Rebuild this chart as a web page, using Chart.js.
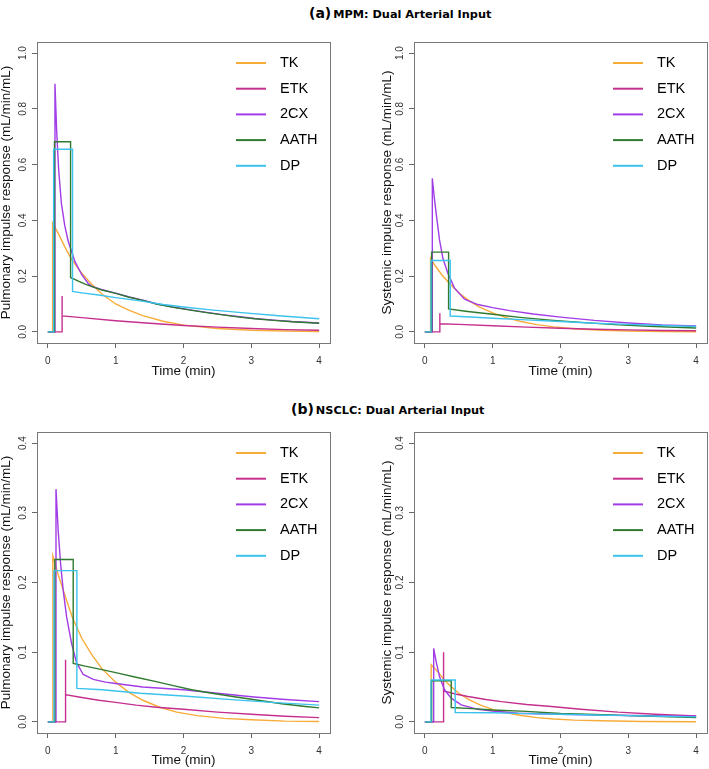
<!DOCTYPE html>
<html>
<head>
<meta charset="utf-8">
<script src="https://cdn.jsdelivr.net/npm/chart.js@4.4.1/dist/chart.umd.min.js"></script>
<style>
  body { margin:0; background:#fff; width:709px; height:769px; position:relative; overflow:hidden; }
  canvas { position:absolute; }
  .ttl { position:absolute; font-family:"DejaVu Sans",sans-serif; font-weight:bold; color:#000; white-space:nowrap; line-height:1; }
  .ttl b { font-size:14px; }
  .ttl span { font-size:11.3px; margin-left:2px; }
</style>
</head>
<body>
<div class="ttl" style="left:309px;top:5px"><b>(a)</b><span>MPM: Dual Arterial Input</span></div>
<div class="ttl" style="left:291px;top:401px"><b>(b)</b><span>NSCLC: Dual Arterial Input</span></div>
<canvas id="c1" width="354" height="350" style="left:0;top:30px"></canvas>
<canvas id="c2" width="355" height="350" style="left:354px;top:30px"></canvas>
<canvas id="c3" width="354" height="349" style="left:0;top:420px"></canvas>
<canvas id="c4" width="355" height="349" style="left:354px;top:420px"></canvas>
<script>
const MODELS = ['TK','ETK','2CX','AATH','DP'];
const COLORS = ['#F7AC3A','#C5308E','#A23CE6','#2F7A2F','#3BC3EE'];
const X_TICKS = [0,1,2,3,4];

// (a) MPM, pulmonary  [time (min), response]
const aPulTK   = [[0,0],[0.07,0],[0.07,0.39],[0.15,0.355],[0.25,0.305],[0.35,0.26],[0.5,0.21],[0.65,0.17],[0.8,0.135],[1.0,0.10],[1.2,0.077],[1.4,0.058],[1.7,0.038],[2.0,0.024],[2.5,0.012],[3.0,0.006],[3.5,0.003],[4.0,0.0015]];
const aPulETK  = [[0,0],[0.21,0],[0.21,0.129],[0.21,0.057],[0.5,0.051],[1.0,0.04],[1.5,0.031],[2.0,0.023],[2.5,0.017],[3.0,0.012],[3.5,0.008],[4.0,0.006]];
const aPul2CX  = [[0,0],[0.105,0],[0.105,0.89],[0.13,0.72],[0.16,0.58],[0.2,0.46],[0.25,0.38],[0.3,0.325],[0.4,0.252],[0.5,0.205],[0.6,0.172],[0.65,0.163],[0.8,0.151],[1.0,0.139],[1.2,0.125],[1.4,0.114],[1.6,0.101],[1.85,0.089],[2.1,0.079],[2.34,0.07],[2.6,0.061],[2.83,0.054],[3.05,0.048],[3.33,0.042],[3.6,0.037],[4.0,0.032]];
const aPulAATH = [[0,0],[0.098,0],[0.098,0.682],[0.335,0.682],[0.335,0.195],[0.45,0.182],[0.55,0.171],[0.65,0.162],[0.8,0.15],[1.0,0.138],[1.2,0.124],[1.4,0.113],[1.6,0.1],[1.85,0.088],[2.1,0.078],[2.34,0.069],[2.6,0.06],[2.83,0.053],[3.05,0.047],[3.33,0.041],[3.6,0.036],[4.0,0.031]];
const aPulDP   = [[0,0],[0.085,0],[0.085,0.655],[0.364,0.655],[0.364,0.145],[0.5,0.14],[0.75,0.132],[1.0,0.123],[1.36,0.111],[1.7,0.098],[2.0,0.089],[2.4,0.079],[2.9,0.068],[3.4,0.058],[4.0,0.047]];

// (a) MPM, systemic
const aSysTK   = [[0,0],[0.084,0],[0.084,0.264],[0.15,0.238],[0.25,0.205],[0.35,0.177],[0.5,0.14],[0.65,0.112],[0.8,0.09],[1.0,0.068],[1.2,0.051],[1.4,0.038],[1.65,0.026],[1.9,0.018],[2.2,0.011],[2.6,0.006],[3.0,0.003],[3.5,0.0012],[4.0,0.0005]];
const aSysETK  = [[0,0],[0.221,0],[0.221,0.067],[0.221,0.029],[0.5,0.027],[1.0,0.022],[1.5,0.017],[2.0,0.013],[2.5,0.0095],[3.0,0.007],[3.5,0.005],[4.0,0.004]];
const aSys2CX  = [[0,0],[0.11,0],[0.11,0.551],[0.14,0.48],[0.167,0.425],[0.216,0.33],[0.266,0.264],[0.339,0.21],[0.438,0.157],[0.585,0.117],[0.78,0.098],[1.0,0.087],[1.25,0.076],[1.6,0.064],[2.0,0.053],[2.5,0.041],[3.0,0.032],[3.5,0.025],[4.0,0.021]];
const aSysAATH = [[0,0],[0.1,0],[0.1,0.286],[0.35,0.286],[0.35,0.082],[0.6,0.074],[1.0,0.063],[1.4,0.052],[1.85,0.042],[2.3,0.034],[2.8,0.026],[3.3,0.02],[4.0,0.014]];
const aSysDP   = [[0,0],[0.09,0],[0.09,0.256],[0.374,0.256],[0.374,0.057],[0.6,0.054],[1.0,0.049],[1.5,0.043],[2.0,0.037],[2.5,0.031],[3.0,0.027],[3.5,0.023],[4.0,0.019]];

// (b) NSCLC, pulmonary
const bPulTK   = [[0,0],[0.074,0],[0.074,0.238],[0.15,0.212],[0.25,0.182],[0.36,0.15],[0.5,0.12],[0.65,0.096],[0.8,0.076],[1.0,0.057],[1.2,0.042],[1.4,0.031],[1.65,0.021],[1.9,0.014],[2.2,0.009],[2.6,0.005],[3.0,0.003],[3.5,0.001],[4.0,0.0005]];
const bPulETK  = [[0,0],[0.261,0],[0.261,0.089],[0.261,0.039],[0.5,0.035],[0.75,0.031],[1.0,0.028],[1.3,0.024],[1.6,0.021],[2.0,0.018],[2.5,0.014],[3.0,0.011],[3.5,0.008],[4.0,0.006]];
const bPul2CX  = [[0,0],[0.12,0],[0.12,0.334],[0.152,0.275],[0.187,0.228],[0.226,0.189],[0.276,0.151],[0.349,0.113],[0.423,0.085],[0.522,0.068],[0.67,0.061],[0.85,0.057],[1.0,0.055],[1.4,0.05],[2.0,0.046],[2.5,0.041],[3.0,0.036],[3.5,0.032],[4.0,0.029]];
const bPulAATH = [[0,0],[0.103,0],[0.103,0.233],[0.374,0.233],[0.374,0.084],[0.55,0.08],[0.8,0.075],[1.05,0.0695],[1.3,0.064],[1.58,0.058],[1.85,0.052],[2.12,0.046],[2.42,0.041],[2.75,0.036],[3.1,0.031],[3.45,0.026],[3.8,0.022],[4.0,0.02]];
const bPulDP   = [[0,0],[0.09,0],[0.09,0.217],[0.428,0.217],[0.428,0.048],[0.8,0.046],[1.36,0.041],[2.0,0.037],[2.76,0.0315],[3.3,0.028],[4.0,0.024]];

// (b) NSCLC, systemic
const bSysTK   = [[0,0],[0.093,0],[0.093,0.082],[0.19,0.072],[0.28,0.061],[0.37,0.052],[0.5,0.041],[0.65,0.032],[0.82,0.024],[1.0,0.018],[1.2,0.013],[1.4,0.0095],[1.65,0.006],[1.9,0.004],[2.2,0.0025],[2.6,0.0015],[3.2,0.0005],[4.0,0.0001]];
const bSysETK  = [[0,0],[0.276,0],[0.276,0.1],[0.276,0.0444],[0.45,0.04],[0.635,0.0363],[0.9,0.032],[1.127,0.029],[1.5,0.025],[1.865,0.022],[2.3,0.018],[2.85,0.0139],[3.4,0.011],[4.0,0.0086]];
const bSys2CX  = [[0,0],[0.13,0],[0.13,0.1056],[0.167,0.0865],[0.216,0.065],[0.29,0.046],[0.389,0.034],[0.536,0.0244],[0.782,0.018],[1.0,0.0155],[1.373,0.0124],[2.0,0.011],[2.8,0.0095],[4.0,0.008]];
const bSysAATH = [[0,0],[0.1,0],[0.1,0.059],[0.389,0.059],[0.389,0.0205],[0.7,0.019],[1.0,0.017],[1.5,0.015],[2.0,0.012],[2.5,0.0105],[3.0,0.009],[3.5,0.0075],[4.0,0.006]];
const bSysDP   = [[0,0],[0.09,0],[0.09,0.06],[0.448,0.06],[0.448,0.0134],[1.0,0.013],[1.5,0.0118],[2.0,0.011],[2.5,0.0098],[3.0,0.009],[3.5,0.008],[4.0,0.0072]];

const FONT = '"Liberation Sans", Arial, sans-serif';

// R-style box round the plot region
const boxPlugin = {
  id: 'rbox',
  afterDraw(c) {
    const a = c.chartArea, ctx = c.ctx;
    ctx.save();
    ctx.strokeStyle = '#777';
    ctx.lineWidth = 1;
    ctx.strokeRect(Math.round(a.left) + 0.5, Math.round(a.top) + 0.5, Math.round(a.right - a.left), Math.round(a.bottom - a.top));
    ctx.restore();
  }
};

// legend inside the plot, top right, like R's legend()
const legendPlugin = {
  id: 'rlegend',
  afterDatasetsDraw(c) {
    const a = c.chartArea, ctx = c.ctx;
    ctx.save();
    ctx.font = '14.5px ' + FONT;
    ctx.textBaseline = 'middle';
    c.data.datasets.forEach((d, i) => {
      const y = a.top + 21 + i * 25.7;
      ctx.strokeStyle = d.borderColor;
      ctx.lineWidth = 2;
      ctx.beginPath(); ctx.moveTo(a.left + 199, y); ctx.lineTo(a.left + 229, y); ctx.stroke();
      ctx.fillStyle = '#000';
      ctx.fillText(d.label, a.left + 243, y);
    });
    ctx.restore();
  }
};

function makePanel(id, series, yMax, yStep, yTitle, yWidth, yTitlePad, padRight, xHeight) {
  return new Chart(document.getElementById(id), {
    type: 'line',
    data: {
      datasets: series.map((s, i) => ({
        label: MODELS[i],
        data: s.map(p => ({ x: p[0], y: p[1] })),
        borderColor: COLORS[i],
        borderWidth: 1.4,
        pointRadius: 0,
        tension: 0,
        fill: false,
        order: series.length - i
      }))
    },
    options: {
      responsive: false, animation: false, devicePixelRatio: 1,
      layout: { padding: { top: 12, right: padRight, bottom: 0, left: 0 } },
      plugins: { legend: { display: false }, tooltip: { enabled: false } },
      scales: {
        x: {
          type: 'linear', min: -0.16, max: 4.16,
          afterFit: s => { s.height = xHeight; },
          afterBuildTicks: s => { s.ticks = X_TICKS.map(v => ({ value: v })); },
          border: { display: false },
          grid: { display: true, drawOnChartArea: false, drawTicks: true, tickLength: 5, color: '#666' },
          ticks: { padding: 7, color: '#333', font: { family: FONT, size: 10 }, maxRotation: 0, callback: v => String(v) },
          title: { display: true, text: 'Time (min)', color: '#111', font: { family: FONT, size: 13.5, lineHeight: 1.2 }, padding: { top: 0, bottom: 1 } }
        },
        y: {
          type: 'linear', min: -yMax * 0.04, max: yMax * 1.04,
          afterFit: s => { s.width = yWidth; },
          border: { display: false },
          grid: { display: true, drawOnChartArea: false, drawTicks: true, tickLength: 5, color: '#666' },
          ticks: { stepSize: yStep, includeBounds: false, minRotation: 90, maxRotation: 90, crossAlign: 'center', padding: 2, color: '#333', font: { family: FONT, size: 10 }, callback: v => v.toFixed(1) },
          title: { display: true, text: yTitle, color: '#111', font: { family: FONT, size: 13.5, lineHeight: 1 }, padding: { top: yTitlePad, bottom: 0 } }
        }
      }
    },
    plugins: [boxPlugin, legendPlugin]
  });
}

const PUL = 'Pulmonary impulse response (mL/min/mL)';
const SYS = 'Systemic impulse response (mL/min/mL)';

makePanel('c1', [aPulTK, aPulETK, aPul2CX, aPulAATH, aPulDP], 1.0, 0.2, PUL, 37, 0, 24, 37);
makePanel('c2', [aSysTK, aSysETK, aSys2CX, aSysAATH, aSysDP], 1.0, 0.2, SYS, 60, 26.5, 2, 37);
makePanel('c3', [bPulTK, bPulETK, bPul2CX, bPulAATH, bPulDP], 0.4, 0.1, PUL, 37, 0, 24, 36);
makePanel('c4', [bSysTK, bSysETK, bSys2CX, bSysAATH, bSysDP], 0.4, 0.1, SYS, 60, 26.5, 2, 36);
</script>
</body>
</html>
